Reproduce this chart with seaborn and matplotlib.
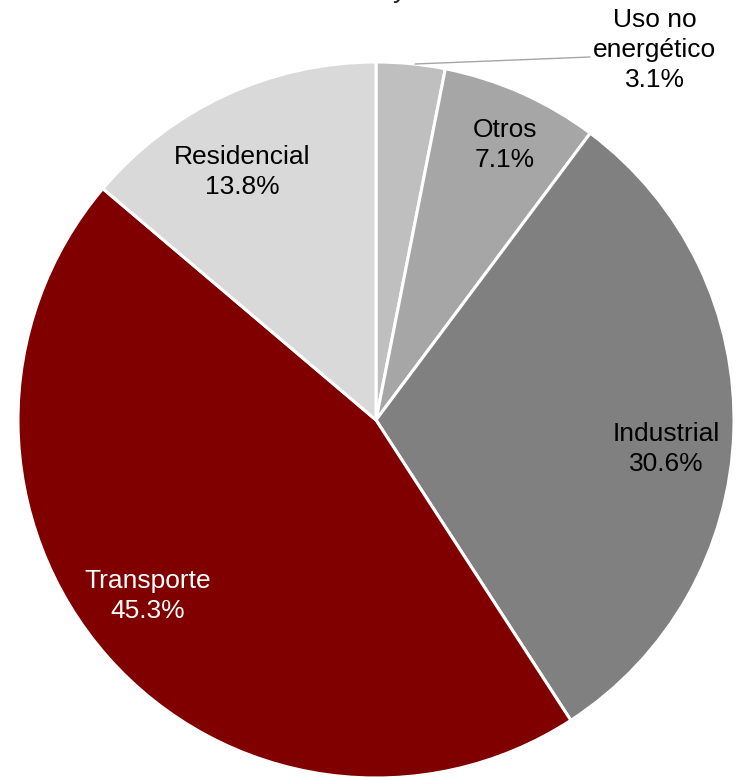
import matplotlib
matplotlib.use("Agg")
import matplotlib.pyplot as plt
import seaborn as sns
import numpy as np

sns.set_style("white")
plt.rcParams['font.family'] = ['Liberation Sans', 'DejaVu Sans']

categories = ["Uso no\nenergético", "Otros", "Industrial", "Transporte", "Residencial"]
values = [3.1, 7.1, 30.6, 45.3, 13.8]
colors = ["#BFBFBF", "#A6A6A6", "#808080", "#800000", "#D9D9D9"]
text_colors = ["black", "black", "black", "white", "black"]

W, H = 738, 777
fig = plt.figure(figsize=(W / 100, H / 100), dpi=100)
cx, cy, r = 376, 420, 358
ax = fig.add_axes([(cx - r) / W, (H - cy - r) / H, 2 * r / W, 2 * r / H])

wedges, _ = ax.pie(values, colors=colors, startangle=90, counterclock=False,
                   radius=1.0, wedgeprops=dict(edgecolor="white", linewidth=2.2))
ax.set_xlim(-1, 1)
ax.set_ylim(-1, 1)
ax.set_aspect("equal")
ax.axis("off")

# label placement (data coords inside the pie axes)
label_pos = [(0.779, 1.034), (0.360, 0.768), (0.810, -0.081), (-0.637, -0.492), (-0.374, 0.693)]
for cat, val, tc, (lx, ly) in zip(categories, values, text_colors, label_pos):
    ax.text(lx, ly, f"{cat}\n{val:.1f}%", ha="center", va="center", color=tc,
            fontsize=19, linespacing=1.3, clip_on=False)

# leader line for small slice
ax.plot([(415 - cx) / r, (590 - cx) / r], [(cy - 64) / r, (cy - 57) / r],
        color="#A6A6A6", lw=1.0, clip_on=False)

# clipped title fragment at top (only the descender tail is visible)
fig.text(400 / W, 1 + 3 / H, "y", ha="center", va="baseline", fontsize=20)

fig.savefig("out.png", dpi=100)
